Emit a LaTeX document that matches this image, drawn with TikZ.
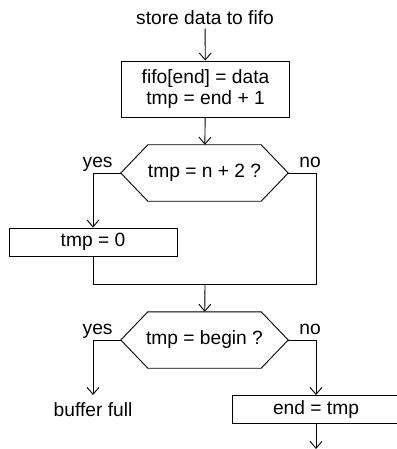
\documentclass[tikz,border=0pt]{standalone}
\usepackage{fontspec}
\setmainfont{Liberation Sans}
\usetikzlibrary{arrows.meta,positioning}

\begin{document}
\begin{tikzpicture}[
  x=1pt,y=-1pt,
  font=\fontsize{19.2}{21}\selectfont,
  box/.style={draw,line width=0.9pt,align=center,inner sep=0pt,minimum width=168pt},
  cond/.style={inner sep=0pt,minimum width=167pt,minimum height=56pt},
  lbl/.style={inner sep=0pt,text depth=0pt},
  arr/.style={-{Straight Barb[length=7pt,width=12pt]},line width=0.9pt},
  ln/.style={line width=0.9pt}
]
\useasboundingbox (0,0) rectangle (396,449);
\node (title) at (205,18) {store data to fifo};
\node[box,minimum height=56pt] (init) at (205.5,89) {fifo[end] = data\\tmp = end + 1};
\node[cond] (chk1) at (204.5,173) {tmp = n + 2 ?};
\node[box,minimum height=28pt] (zero) at (93,242) {tmp = 0};
\coordinate (join) at (205,284);
\node[cond] (chk2) at (204.5,340) {tmp = begin ?};
\node[box,minimum height=28pt] (upd) at (316,409.5) {end = tmp};
\node[lbl,anchor=north] (full) at (93,402) {buffer full};
\coordinate (out) at (316,449);
% hexagon outlines of the two tests
\foreach \c in {chk1,chk2}
  \draw[ln] (\c.west) -- ([xshift=27pt]\c.north west) -- ([xshift=-27pt]\c.north east)
    -- (\c.east) -- ([xshift=-27pt]\c.south east) -- ([xshift=27pt]\c.south west) -- cycle;
\node[lbl,above left=5pt and 8pt of chk1.west] (yes1) {yes};
\node[lbl,above right=5pt and 11pt of chk1.east] (no1) {no};
\node[lbl,above left=5pt and 8pt of chk2.west] (yes2) {yes};
\node[lbl,above right=5pt and 11pt of chk2.east] (no2) {no};
\draw[arr] (title) -- (init);
\draw[arr] (init) -- (chk1);
\draw[arr] (chk1.west) -| (zero.north);
\draw[ln] (zero.south) |- (join);
\draw[ln] (chk1.east) -| (upd.north |- join) -- (join);
\draw[arr] (join) -- (chk2);
\draw[arr,shorten >=7pt] (chk2.west) -| (full.north);
\draw[arr] (chk2.east) -| (upd.north);
\draw[arr] (upd) -- (out);
\end{tikzpicture}
\end{document}
